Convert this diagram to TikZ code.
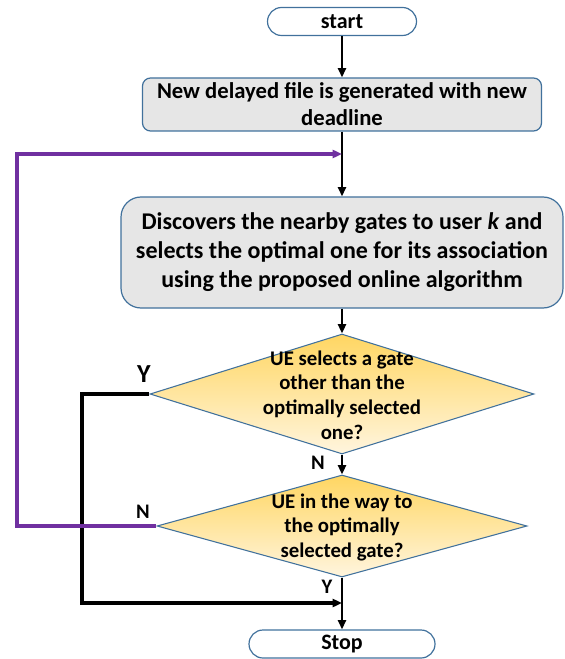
\documentclass[tikz,border=0pt]{standalone}
\usepackage{fontspec}
\setmainfont{Carlito}
\usetikzlibrary{shapes.geometric,arrows.meta}

\definecolor{boxline}{RGB}{65,113,156}
\definecolor{boxfill}{RGB}{230,230,230}
\definecolor{goldtop}{RGB}{255,214,98}
\definecolor{goldbot}{RGB}{255,245,222}
\definecolor{loopviolet}{RGB}{112,48,160}

\tikzset{every picture/.style={line width=0.75pt}}
\tikzset{
  terminal/.style={draw=boxline, line width=0.9pt, rounded corners=10.5pt, minimum height=21pt, inner sep=0pt, font=\fontsize{16.5}{19.5}\selectfont\bfseries},
  process/.style={draw=boxline, fill=boxfill, line width=0.9pt, align=center, inner sep=0pt},
  decision/.style={diamond, draw=boxline, line width=0.8pt, top color=goldtop, bottom color=goldbot, inner sep=0pt},
  dectext/.style={align=center, inner sep=0pt, font=\fontsize{15.6}{18.4}\selectfont\bfseries},
  branch/.style={inner sep=0pt, font=\fontsize{15.5}{17}\selectfont\bfseries},
  flow/.style={line width=1.7pt, -{Triangle[length=7pt,width=6pt]}},
  yesloop/.style={line width=2.3pt, -{Triangle[length=7pt,width=6pt]}},
  noloop/.style={color=loopviolet, line width=2.3pt, -{Triangle[length=7pt,width=6pt]}},
}

\begin{document}
\begin{tikzpicture}[x=0.75pt,y=0.75pt,yscale=-1,xscale=1]
\useasboundingbox (0,0) rectangle (564,659);

%Terminal: start
\node [terminal, minimum width=111.75pt] (start) at (342,21.5) {start};
%Process: new file
\node [process, rounded corners=6pt, minimum width=299.25pt, minimum height=39.75pt, font=\fontsize{17}{20.3}\selectfont\bfseries] (newfile) at (342,104.5) {New delayed file is generated with new\\deadline};
%Process: gate discovery
\node [process, rounded corners=15pt, minimum width=331.5pt, minimum height=83.25pt, font=\fontsize{18}{21.7}\selectfont\bfseries] (discover) at (342,252.5) {Discovers the nearby gates to user \textit{k} and\\selects the optimal one for its association\\using the proposed online algorithm};
%Decision: other gate
\node [decision, minimum width=288pt, minimum height=90pt] (othergate) at (342,394) {};
\node [dectext] (othertext) at (342,395) {UE selects a gate\\other than the\\optimally selected\\one?};
%Decision: on the way
\node [decision, minimum width=277.5pt, minimum height=76.5pt] (onway) at (342,526) {};
\node [dectext] (onwaytext) at (342,527) {UE in the way to\\the optimally\\selected gate?};
%Terminal: stop
\node [terminal, minimum width=139.5pt] (stop) at (342,644) {Stop};

%Loop corners
\coordinate (ytop) at (82,394);
\coordinate (ybottom) at (82,603);
\coordinate (yjoin) at (342,603);
\coordinate (nbottom) at (17,526);
\coordinate (ntop) at (17,154);
\coordinate (njoin) at (342,154);

%Straight Lines
\draw [flow] (start) -- (newfile);
\draw [flow] (newfile) -- (discover);
\draw [flow] (discover) -- (othergate);
\draw [flow] (othergate) -- (onway);
\draw [flow] (onway) -- (stop);
%Yes branch
\draw [yesloop] (othergate.west) -- (ytop) -- (ybottom) -- (yjoin);
%No branch
\draw [noloop] (onway.west) -- (nbottom) -- (ntop) -- (njoin);

% Text Node
\node [branch, font=\fontsize{19.5}{21}\selectfont\bfseries] (yesone) at (144,374) {Y};
% Text Node
\node [branch] (noone) at (318,463) {N};
% Text Node
\node [branch] (notwo) at (143,512) {N};
% Text Node
\node [branch] (yestwo) at (327,587) {Y};

\end{tikzpicture}
\end{document}
